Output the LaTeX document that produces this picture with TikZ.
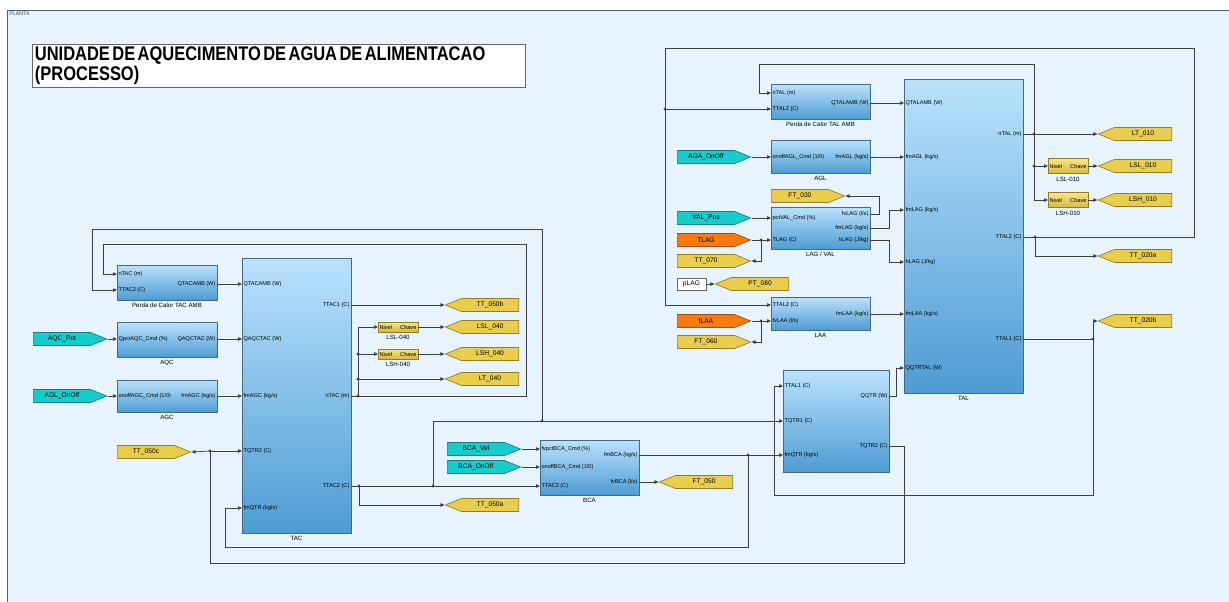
\documentclass[tikz,border=0pt]{standalone}
\usepackage{fontspec}
\setmainfont{Liberation Sans}
\newfontfamily\titlefont[FakeStretch=0.835]{Liberation Sans}
\usetikzlibrary{arrows.meta,positioning,shapes.symbols}
\definecolor{CanvasBlue}{RGB}{232,244,253}
\definecolor{BlockTop}{RGB}{186,226,252}
\definecolor{BlockBot}{RGB}{78,156,212}
\definecolor{BlockEdge}{RGB}{72,104,136}
\definecolor{TagYellow}{RGB}{233,205,76}
\definecolor{TagYellowEdge}{RGB}{150,126,32}
\definecolor{TagCyan}{RGB}{22,204,204}
\definecolor{TagCyanEdge}{RGB}{24,128,128}
\definecolor{TagOrange}{RGB}{246,122,14}
\definecolor{TagOrangeEdge}{RGB}{160,80,12}
\definecolor{SwitchTop}{RGB}{246,230,142}
\definecolor{SwitchBot}{RGB}{214,184,62}
\definecolor{WireGray}{RGB}{62,62,62}
\tikzset{
  simblock/.style={draw=BlockEdge,line width=0.5pt,top color=BlockTop,
    bottom color=BlockBot,inner sep=0pt},
  swblock/.style={draw=TagYellowEdge,line width=0.5pt,top color=SwitchTop,
    bottom color=SwitchBot,minimum width=30pt,inner sep=0pt},
  blklabel/.style={inner sep=0pt,font=\fontsize{4.6}{5.5}\selectfont},
  portpin/.style={inner sep=1pt,font=\fontsize{4.2}{5}\selectfont},
  inport/.style={portpin,anchor=west},
  outport/.style={portpin,anchor=east},
  tagbase/.style={signal,signal pointer angle=44,signal from=nowhere,
    line width=0.5pt,minimum width=55pt,minimum height=9.75pt,inner sep=0pt,
    font=\fontsize{5}{6}\selectfont},
  gotoR/.style={tagbase,signal to=east,anchor=west},
  gotoL/.style={tagbase,signal to=west,anchor=east},
  cyantag/.style={gotoR,fill=TagCyan,draw=TagCyanEdge},
  orangetag/.style={gotoR,fill=TagOrange,draw=TagOrangeEdge},
  yellowR/.style={gotoR,fill=TagYellow,draw=TagYellowEdge},
  yellowL/.style={gotoL,fill=TagYellow,draw=TagYellowEdge},
  sig/.style={draw=WireGray,line width=0.55pt,
    -{Triangle[length=3pt,width=2.6pt]}},
  dot/.style={circle,fill=WireGray,inner sep=0pt,minimum size=2.4pt},
}

\begin{document}
\begin{tikzpicture}[x=0.75pt,y=-0.75pt]
\useasboundingbox (0,0) rectangle (1229,601);
\fill[white] (0,0) rectangle (1229,601);
\filldraw[fill=CanvasBlue,draw=gray!75!black,line width=0.5pt] (7,10) rectangle (1245,615);
\node[anchor=north west,inner sep=0pt,font=\fontsize{4}{5}\selectfont,text=gray!60!black] (plant) at (9,12) {PLANTA};
\node[draw=gray!80!black,fill=white,anchor=north west,text width=366pt,minimum height=32.25pt,
  inner sep=2pt,align=left,font=\titlefont\bfseries\fontsize{14.8}{15}\selectfont] (title) at (32,44)
  {\spaceskip=1.8pt UNIDADE DE AQUECIMENTO DE AGUA DE ALIMENTACAO\\(PROCESSO)};

\node[simblock,minimum width=75pt,minimum height=26.25pt] (pctac) at (167,282.5) {};
\node[blklabel,below=2pt of pctac] (pctac-lbl) {Perda de Calor TAC AMB};
\node[inport] (pctac-n) at (117,274) {nTAC (m)};
\node[inport] (pctac-t) at (117,290) {TTAC2 (C)};
\node[outport] (pctac-q) at (217,284) {QTACAMB (W)};

\node[simblock,minimum width=75pt,minimum height=26.25pt] (aqc) at (167,339.5) {};
\node[blklabel,below=2pt of aqc] (aqc-lbl) {AQC};
\node[inport] (aqc-u) at (117,339) {QpctAQC\_Cmd (\%)};
\node[outport] (aqc-q) at (217,339) {QAQCTAC (W)};

\node[simblock,minimum width=75pt,minimum height=24pt] (agc) at (167,396) {};
\node[blklabel,below=2pt of agc] (agc-lbl) {AGC};
\node[inport] (agc-u) at (117,396) {onoffAGC\_Cmd (1/0)};
\node[outport] (agc-m) at (217,396) {fmAGC (kg/s)};

\node[simblock,minimum width=81.75pt,minimum height=206.25pt] (tac) at (296.5,395.5) {};
\node[blklabel,below=2pt of tac] (tac-lbl) {TAC};
\node[inport] (tac-qamb) at (242,284) {QTACAMB (W)};
\node[inport] (tac-qaqc) at (242,339) {QAQCTAC (W)};
\node[inport] (tac-magc) at (242,396) {fmAGC (kg/s)};
\node[inport] (tac-tqtr) at (242,451) {TQTR2 (C)};
\node[inport] (tac-mqtr) at (242,508) {fmQTR (kg/s)};
\node[outport] (tac-t1) at (351,305) {TTAC1 (C)};
\node[outport] (tac-n) at (351,396) {nTAC (m)};
\node[outport] (tac-t2) at (351,486) {TTAC2 (C)};

\node[swblock,minimum height=7.5pt] (lsl40) at (398,327) {};
\node[blklabel,below=2pt of lsl40] (lsl40-lbl) {LSL-040};
\node[inport] (lsl40-i) at (378,327) {Nivel};
\node[outport] (lsl40-o) at (418,327) {Chave};
\node[swblock,minimum height=7.5pt] (lsh40) at (398,354) {};
\node[blklabel,below=2pt of lsh40] (lsh40-lbl) {LSH-040};
\node[inport] (lsh40-i) at (378,354) {Nivel};
\node[outport] (lsh40-o) at (418,354) {Chave};

\node[simblock,minimum width=74.25pt,minimum height=41.25pt] (bca) at (589.5,467.5) {};
\node[blklabel,below=2pt of bca] (bca-lbl) {BCA};
\node[inport] (bca-v) at (540,449) {fvpctBCA\_Cmd (\%)};
\node[inport] (bca-o) at (540,467) {onoffBCA\_Cmd (1/0)};
\node[inport] (bca-t) at (540,486) {TTAC2 (C)};
\node[outport] (bca-m) at (639,455) {fmBCA (kg/s)};
\node[outport] (bca-f) at (639,482) {fvBCA (l/s)};

\node[simblock,minimum width=79.5pt,minimum height=76.5pt] (qtr) at (836,421) {};
\node[inport] (qtr-t) at (783,386) {TTAL1 (C)};
\node[inport] (qtr-t1) at (783,421) {TQTR1 (C)};
\node[inport] (qtr-m) at (783,455) {fmQTR (kg/s)};
\node[outport] (qtr-q) at (889,396) {QQTR (W)};
\node[outport] (qtr-t2) at (889,446) {TQTR2 (C)};

\node[simblock,minimum width=74.25pt,minimum height=26.25pt] (pctal) at (820.5,101.5) {};
\node[blklabel,below=2pt of pctal] (pctal-lbl) {Perda de Calor TAL AMB};
\node[inport] (pctal-n) at (771,93) {nTAL (m)};
\node[inport] (pctal-t) at (771,109) {TTAL2 (C)};
\node[outport] (pctal-q) at (870,103) {QTALAMB (W)};

\node[simblock,minimum width=74.25pt,minimum height=24.75pt] (agl) at (820.5,156.5) {};
\node[blklabel,below=2pt of agl] (agl-lbl) {AGL};
\node[inport] (agl-u) at (771,157) {onoffAGL\_Cmd (1/0)};
\node[outport] (agl-m) at (870,157) {fmAGL (kg/s)};

\node[simblock,minimum width=74.25pt,minimum height=31.5pt] (lag) at (820.5,228) {};
\node[blklabel,below=2pt of lag] (lag-lbl) {LAG / VAL};
\node[inport] (lag-p) at (771,218) {pctVAL\_Cmd (\%)};
\node[inport] (lag-t) at (771,240) {TLAG (C)};
\node[outport] (lag-f) at (870,214) {fvLAG (l/s)};
\node[outport] (lag-m) at (870,228) {fmLAG (kg/s)};
\node[outport] (lag-h) at (870,240) {hLAG (J/kg)};

\node[simblock,minimum width=74.25pt,minimum height=24.75pt] (laa) at (820.5,313.5) {};
\node[blklabel,below=2pt of laa] (laa-lbl) {LAA};
\node[inport] (laa-t) at (771,305) {TTAL2 (C)};
\node[inport] (laa-f) at (771,321) {fvLAA (l/s)};
\node[outport] (laa-m) at (870,314) {fmLAA (kg/s)};

\node[simblock,minimum width=89.25pt,minimum height=235.5pt] (tal) at (963.5,236) {};
\node[blklabel,below=2pt of tal] (tal-lbl) {TAL};
\node[inport] (tal-qamb) at (904,103) {QTALAMB (W)};
\node[inport] (tal-magl) at (904,157) {fmAGL (kg/s)};
\node[inport] (tal-mlag) at (904,210) {fmLAG (kg/s)};
\node[inport] (tal-hlag) at (904,262) {hLAG (J/kg)};
\node[inport] (tal-mlaa) at (904,314) {fmLAA (kg/s)};
\node[inport] (tal-qqtr) at (904,368) {QQTRTAL (W)};
\node[outport] (tal-n) at (1023,134) {nTAL (m)};
\node[outport] (tal-t2) at (1023,237) {TTAL2 (C)};
\node[outport] (tal-t1) at (1023,339) {TTAL1 (C)};

\node[swblock,minimum height=11.25pt] (lsl10) at (1068,166) {};
\node[blklabel,below=2pt of lsl10] (lsl10-lbl) {LSL-010};
\node[inport] (lsl10-i) at (1048,166) {Nivel};
\node[outport] (lsl10-o) at (1088,166) {Chave};
\node[swblock,minimum height=11.25pt] (lsh10) at (1068,200) {};
\node[blklabel,below=2pt of lsh10] (lsh10-lbl) {LSH-010};
\node[inport] (lsh10-i) at (1048,200) {Nivel};
\node[outport] (lsh10-o) at (1088,200) {Chave};

\node[cyantag] (aqcpot) at (33,339) {AQC\_Pot};
\node[cyantag] (aglonoff) at (33,396) {AGL\_OnOff};
\node[cyantag] (agaonoff) at (677,157) {AGA\_OnOff};
\node[cyantag] (valpos) at (677,218) {VAL\_Pos};
\node[cyantag] (bcavel) at (447,449) {BCA\_Vel};
\node[cyantag] (bcaonoff) at (447,467) {BCA\_OnOff};
\node[orangetag] (tlag) at (677,240) {TLAG};
\node[orangetag] (flaa) at (677,321) {fLAA};
\node[yellowR] (tt050c) at (117,452) {TT\_050c};
\node[yellowR] (ft030) at (771,196) {FT\_030};
\node[yellowR] (tt070) at (677,261) {TT\_070};
\node[yellowR] (ft060) at (677,342) {FT\_060};
\node[yellowL] (tt050b) at (519,305) {TT\_050b};
\node[yellowL] (lsl040t) at (519,327) {LSL\_040};
\node[yellowL] (lsh040t) at (519,354) {LSH\_040};
\node[yellowL] (lt040) at (519,379) {LT\_040};
\node[yellowL] (tt050a) at (519,505) {TT\_050a};
\node[yellowL] (ft050) at (733,482) {FT\_050};
\node[yellowL] (pt080) at (789,284) {PT\_080};
\node[yellowL] (lt010) at (1172,134) {LT\_010};
\node[yellowL] (lsl010t) at (1172,166) {LSL\_010};
\node[yellowL] (lsh010t) at (1172,200) {LSH\_010};
\node[yellowL] (tt020a) at (1172,256) {TT\_020a};
\node[yellowL] (tt020b) at (1172,321) {TT\_020b};
\node[draw=gray!80!black,fill=white,minimum width=21.75pt,minimum height=9pt,inner sep=0pt,
  font=\fontsize{5}{6}\selectfont] (plag) at (691.5,284) {pLAG};

\node[dot] (jn1) at (358,396) {};
\node[dot] (jn2) at (358,354) {};
\node[dot] (jn3) at (358,379) {};
\node[dot] (jt1) at (359,486) {};
\node[dot] (jt2) at (433,486) {};
\node[dot] (jt3) at (542,421) {};
\node[dot] (jq) at (210,451) {};
\node[dot] (jb) at (748,455) {};
\node[dot] (jl) at (1093,339) {};
\node[dot] (jn4) at (1034,134) {};
\node[dot] (jn5) at (1034,166) {};
\node[dot] (jt4) at (1035,237) {};
\node[dot] (jt5) at (665,109) {};
\node[dot] (jg) at (761,240) {};
\node[dot] (jf) at (761,321) {};

\draw[sig] (pctac-q.east) -- (tac-qamb.west);
\draw[sig] (aqcpot.east) -- (aqc-u.west);
\draw[sig] (aqc-q.east) -- (tac-qaqc.west);
\draw[sig] (aglonoff.east) -- (agc-u.west);
\draw[sig] (agc-m.east) -- (tac-magc.west);
\draw[sig] (tac-t1.east) -- (tt050b.west);
\draw[sig] (tac-n.east) -| (526,244) -| (103,274) -- (pctac-n.west);
\draw[sig] (jn1.center) |- (lsl40-i.west);
\draw[sig] (jn2.center) -- (lsh40-i.west);
\draw[sig] (jn3.center) -- (lt040.west);
\draw[sig] (lsl40-o.east) -- (lsl040t.west);
\draw[sig] (lsh40-o.east) -- (lsh040t.west);
\draw[sig] (tac-t2.east) -- (bca-t.west);
\draw[sig] (jt1.center) |- (tt050a.west);
\draw[sig] (jt2.center) |- (qtr-t1.west);
\draw[sig] (jt3.center) |- (92,229) |- (pctac-t.west);
\draw[sig] (qtr-t2.east) -| (904,563) -| (jq.center) -- (tac-tqtr.west);
\draw[sig] (jq.center) -- (tt050c.east);
\draw[sig] (bcavel.east) -- (bca-v.west);
\draw[sig] (bcaonoff.east) -- (bca-o.west);
\draw[sig] (bca-f.east) -- (ft050.west);
\draw[sig] (bca-m.east) -- (qtr-m.west);
\draw[sig] (jb.center) |- (225,547) |- (tac-mqtr.west);
\draw[sig] (tal-t1.east) -| (1093,495) -| (774,386) -- (qtr-t.west);
\draw[sig] (jl.center) |- (tt020b.west);
\draw[sig] (qtr-q.east) -| (896,368) -- (tal-qqtr.west);
\draw[sig] (tal-n.east) -- (lt010.west);
\draw[sig] (jn4.center) |- (759,64) |- (pctal-n.west);
\draw[sig] (jn4.center) |- (lsh10-i.west);
\draw[sig] (jn5.center) -- (lsl10-i.west);
\draw[sig] (lsl10-o.east) -- (lsl010t.west);
\draw[sig] (lsh10-o.east) -- (lsh010t.west);
\draw[sig] (tal-t2.east) -| (1194,48) -| (665,305) -- (laa-t.west);
\draw[sig] (jt4.center) |- (tt020a.west);
\draw[sig] (jt5.center) -- (pctal-t.west);
\draw[sig] (pctal-q.east) -- (tal-qamb.west);
\draw[sig] (agaonoff.east) -- (agl-u.west);
\draw[sig] (agl-m.east) -- (tal-magl.west);
\draw[sig] (valpos.east) -- (lag-p.west);
\draw[sig] (tlag.east) -- (lag-t.west);
\draw[sig] (jg.center) |- (tt070.east);
\draw[sig] (lag-f.east) -| (879,196) -- (ft030.east);
\draw[sig] (lag-m.east) -| (889,210) -- (tal-mlag.west);
\draw[sig] (lag-h.east) -| (889,262) -- (tal-hlag.west);
\draw[sig] (plag.east) -- (pt080.west);
\draw[sig] (flaa.east) -- (laa-f.west);
\draw[sig] (jf.center) |- (ft060.east);
\draw[sig] (laa-m.east) -- (tal-mlaa.west);
\end{tikzpicture}
\end{document}
